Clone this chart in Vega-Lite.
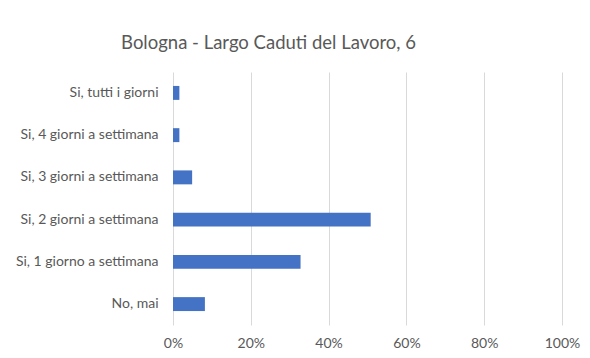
{
  "$schema": "https://vega.github.io/schema/vega-lite/v6.json",
  "width": 389,
  "height": 253,
  "autosize": {"type": "none"},
  "padding": {"left": 173, "top": 72, "right": 28, "bottom": 33},
  "background": "white",
  "title": {
    "text": "Bologna - Largo Caduti del Lavoro, 6",
    "font": "Lato",
    "fontSize": 18.5,
    "fontWeight": "normal",
    "color": "#595959",
    "anchor": "middle",
    "dx": -99,
    "offset": 20
  },
  "data": {
    "values": [
      {"risposta": "Si, tutti i giorni", "quota": 0.0164},
      {"risposta": "Si, 4 giorni a settimana", "quota": 0.0164},
      {"risposta": "Si, 3 giorni a settimana", "quota": 0.0492},
      {"risposta": "Si, 2 giorni a settimana", "quota": 0.5082},
      {"risposta": "Si, 1 giorno a settimana", "quota": 0.3279},
      {"risposta": "No, mai", "quota": 0.082}
    ]
  },
  "mark": {"type": "bar", "color": "#4472C4"},
  "encoding": {
    "y": {
      "field": "risposta",
      "type": "nominal",
      "sort": null,
      "scale": {"paddingInner": 0.67, "paddingOuter": 0.33},
      "axis": {
        "title": null,
        "domain": false,
        "ticks": false,
        "grid": false,
        "labelPadding": 15,
        "labelFont": "Lato",
        "labelFontSize": 14,
        "labelColor": "#595959"
      }
    },
    "x": {
      "field": "quota",
      "type": "quantitative",
      "scale": {"domain": [0, 1], "nice": false},
      "axis": {
        "title": null,
        "format": ".0%",
        "values": [0, 0.2, 0.4, 0.6, 0.8, 1],
        "domain": false,
        "ticks": false,
        "grid": true,
        "gridColor": "#d9d9d9",
        "gridWidth": 1,
        "labelFlush": false,
        "labelPadding": 11,
        "labelFont": "Lato",
        "labelFontSize": 14,
        "labelColor": "#595959"
      }
    }
  },
  "config": {"view": {"stroke": null}}
}
